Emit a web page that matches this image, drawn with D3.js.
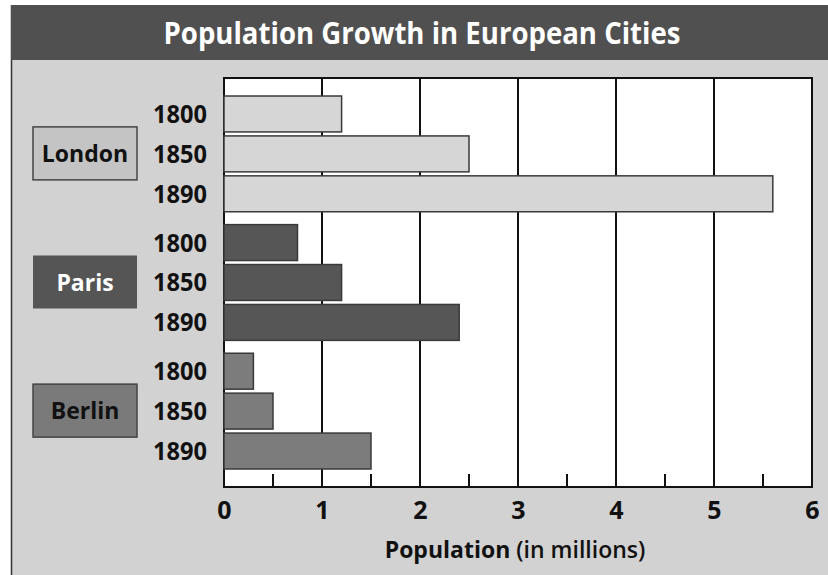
<!DOCTYPE html>
<html>
<head>
<meta charset="utf-8">
<script src="https://cdn.jsdelivr.net/npm/d3@7"></script>
<style>
  body { margin: 0; background: #fff; }
  svg { display: block; font-family: "Open Sans", "DejaVu Sans", sans-serif; }
</style>
</head>
<body>
<div id="chart"></div>
<script>
// chart values
var cities = ['London', 'Paris', 'Berlin'];
var years = ['1800', '1850', '1890'];
var london = [1.2, 2.5, 5.6];
var paris = [0.75, 1.2, 2.4];
var berlin = [0.3, 0.5, 1.5];
var xTicks = [0, 1, 2, 3, 4, 5, 6];

var values = { London: london, Paris: paris, Berlin: berlin };
var barColors = { London: '#d6d6d6', Paris: '#565656', Berlin: '#7c7c7c' };
var boxColors = { London: '#c4c4c4', Paris: '#555555', Berlin: '#7a7a7a' };
var boxText = { London: '#111', Paris: '#fff', Berlin: '#111' };

var width = 828, height = 575;
var plot = { left: 224, right: 812, top: 78, bottom: 487 };

var svg = d3.select('#chart').append('svg')
  .attr('width', width)
  .attr('height', height);

// panel + title bar
svg.append('rect')
  .attr('x', 11).attr('y', 5)
  .attr('width', width - 11).attr('height', height - 5)
  .style('fill', '#d2d2d2');
svg.append('line')
  .attr('x1', 11.5).attr('x2', 11.5).attr('y1', 5).attr('y2', height)
  .style('stroke', '#333').style('stroke-width', 1.5);
svg.append('rect')
  .attr('x', 11).attr('y', 5)
  .attr('width', width - 11).attr('height', 55)
  .style('fill', '#505050');
svg.append('text')
  .attr('x', 422).attr('y', 44)
  .attr('text-anchor', 'middle')
  .attr('textLength', 517)
  .attr('lengthAdjust', 'spacingAndGlyphs')
  .style('font-size', '30px')
  .style('font-weight', 'bold')
  .style('fill', '#fff')
  .text('Population Growth in European Cities');

// scales
var x = d3.scaleLinear().domain([0, 6]).range([plot.left, plot.right]);
var yGroup = d3.scaleBand().domain(cities)
  .range([plot.top, plot.bottom])
  .paddingInner(0.1).paddingOuter(0.14);
var yYear = d3.scaleBand().domain(years)
  .range([0, yGroup.bandwidth()])
  .paddingInner(0.1);

// plot area
svg.append('rect')
  .attr('x', plot.left).attr('y', plot.top)
  .attr('width', plot.right - plot.left).attr('height', plot.bottom - plot.top)
  .style('fill', '#fff')
  .style('stroke', '#111').style('stroke-width', 2);

// grid lines at whole numbers
svg.append('g').selectAll('line')
  .data(xTicks.slice(1, -1))
  .enter().append('line')
  .attr('x1', d => x(d)).attr('x2', d => x(d))
  .attr('y1', plot.top).attr('y2', plot.bottom)
  .style('stroke', '#111').style('stroke-width', 2);

// half ticks along the bottom
svg.append('g').selectAll('line')
  .data(x.ticks(12).filter(d => d % 1 !== 0))
  .enter().append('line')
  .attr('x1', d => x(d)).attr('x2', d => x(d))
  .attr('y1', plot.bottom - 13).attr('y2', plot.bottom)
  .style('stroke', '#111').style('stroke-width', 2);

// bars
var groups = svg.append('g').selectAll('g')
  .data(cities)
  .enter().append('g')
  .attr('transform', d => 'translate(0,' + yGroup(d) + ')');

groups.selectAll('rect')
  .data(c => years.map((yr, i) => ({ city: c, year: yr, value: values[c][i] })))
  .enter().append('rect')
  .attr('x', x(0))
  .attr('y', d => yYear(d.year))
  .attr('width', d => x(d.value) - x(0))
  .attr('height', yYear.bandwidth())
  .style('fill', d => barColors[d.city])
  .style('stroke', '#3a3a3a')
  .style('stroke-width', 1.5);

// year labels
groups.selectAll('text.year')
  .data(years)
  .enter().append('text')
  .attr('class', 'year')
  .attr('x', 207)
  .attr('y', d => yYear(d) + yYear.bandwidth() / 2)
  .attr('dy', '0.36em')
  .attr('text-anchor', 'end')
  .attr('textLength', 54)
  .attr('lengthAdjust', 'spacingAndGlyphs')
  .style('font-size', '25px')
  .style('font-weight', 'bold')
  .style('fill', '#111')
  .text(d => d);

// city boxes
groups.append('rect')
  .attr('x', 33)
  .attr('y', yGroup.bandwidth() / 2 - 27)
  .attr('width', 104)
  .attr('height', 53)
  .style('fill', d => boxColors[d])
  .style('stroke', d => d === 'Paris' ? 'none' : '#444')
  .style('stroke-width', 1.5);

groups.append('text')
  .attr('x', 85)
  .attr('y', yGroup.bandwidth() / 2)
  .attr('dy', '0.36em')
  .attr('text-anchor', 'middle')
  .style('font-size', '23px')
  .style('font-weight', 'bold')
  .style('fill', d => boxText[d])
  .text(d => d);

// x axis labels
var axis = d3.axisBottom(x).tickValues(xTicks).tickSize(0).tickPadding(0)
  .tickFormat(d3.format('d'));
var axisG = svg.append('g')
  .attr('transform', 'translate(0,' + (plot.bottom + 14) + ')')
  .call(axis);
axisG.select('.domain').remove();
axisG.selectAll('text')
  .attr('dy', '0.71em')
  .style('font-family', '"Open Sans", sans-serif')
  .style('font-size', '25px')
  .style('font-weight', 'bold')
  .style('fill', '#111');

var title = svg.append('text')
  .attr('x', 515).attr('y', 558)
  .attr('text-anchor', 'middle')
  .style('font-size', '23px')
  .style('fill', '#111');
title.append('tspan').style('font-weight', 'bold').text('Population ');
title.append('tspan').style('font-weight', '600').text('(in millions)');
</script>
</body>
</html>
